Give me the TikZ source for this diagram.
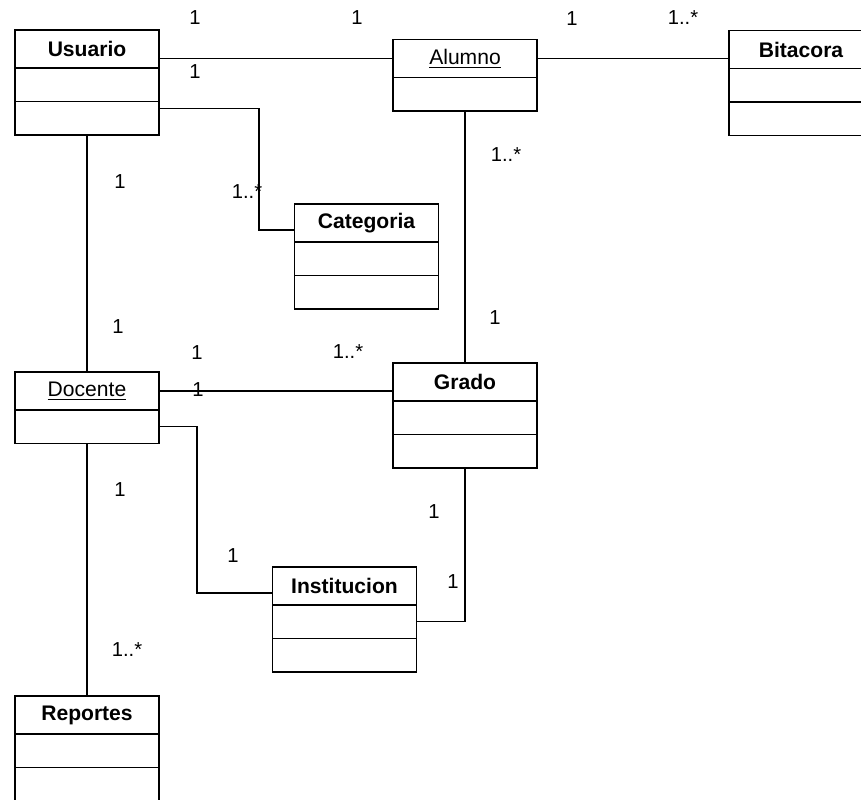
\documentclass[tikz,border=0pt]{standalone}
\usepackage{fontspec}
\setmainfont{Liberation Sans}
\usetikzlibrary{positioning}

\begin{document}
\begin{tikzpicture}[
    x=0.02cm, y=-0.02cm,
    cls/.style={rectangle, draw, line width=1.1pt, outer sep=0pt,
        minimum width=2.88cm, minimum height=0.76cm, align=center,
        font=\fontsize{12}{14}\selectfont\bfseries},
    obj/.style={cls, font=\fontsize{12}{14}\selectfont},
    comp/.style={rectangle, draw, line width=1.1pt, outer sep=0pt,
        minimum width=2.88cm, minimum height=0.67cm},
    mult/.style={inner sep=0pt, font=\fontsize{11.5}{13}\selectfont},
    assoc/.style={draw, line width=0.6pt}
]
    \useasboundingbox (0,0) rectangle (861,799);
    \clip (0,0) rectangle (861,799);

    \node[cls] (usr) at (87,49) {Usuario};
    \node[comp, below=0pt of usr] (usrA) {};
    \node[comp, below=0pt of usrA] (usrB) {};

    \node[obj] (alu) at (465,58.5) {\underline{Alumno}};
    \node[comp, below=0pt of alu] (aluA) {};

    \node[cls] (bit) at (801,49.5) {Bitacora};
    \node[comp, below=0pt of bit] (bitA) {};
    \node[comp, below=0pt of bitA] (bitB) {};

    \node[cls] (cat) at (366.5,223) {Categoria};
    \node[comp, below=0pt of cat] (catA) {};
    \node[comp, below=0pt of catA] (catB) {};

    \node[obj] (doc) at (87,391) {\underline{Docente}};
    \node[comp, below=0pt of doc] (docA) {};

    \node[cls] (gra) at (465,382) {Grado};
    \node[comp, below=0pt of gra] (graA) {};
    \node[comp, below=0pt of graA] (graB) {};

    \node[cls] (ins) at (344.5,586) {Institucion};
    \node[comp, below=0pt of ins] (insA) {};
    \node[comp, below=0pt of insA] (insB) {};

    \node[cls] (rep) at (87,715) {Reportes};
    \node[comp, below=0pt of rep] (repA) {};
    \node[comp, below=0pt of repA] (repB) {};

    \draw[assoc] (alu.west) -- (alu.west -| usr.east);
    \draw[assoc] (alu.east) -- (alu.east -| bit.west);
    \draw[assoc] ([yshift=0.2cm]usrB.east) -- ++(100,0) |- ([yshift=-0.14cm]cat.west);
    \draw[assoc] (usrB.south) -- (doc.north);
    \draw[assoc] (doc.east) -- (doc.east -| gra.west);
    \draw[assoc] (aluA.south) -- (gra.north);
    \draw[assoc] (docA.east) -- ++(38,0) |- ([yshift=-0.14cm]ins.west);
    \draw[assoc] (graB.south) |- (insA.east);
    \draw[assoc] (docA.south) -- (rep.north);

    \node[mult] (m1) at (195,18) {1};
    \node[mult] (m2) at (195,72) {1};
    \node[mult] (m3) at (357,18) {1};
    \node[mult] (m4) at (572,19) {1};
    \node[mult] (m5) at (683,18) {1..*};
    \node[mult] (m6) at (120,182) {1};
    \node[mult] (m7) at (247,192) {1..*};
    \node[mult] (m8) at (506,155) {1..*};
    \node[mult] (m9) at (495,318) {1};
    \node[mult] (m10) at (118,327) {1};
    \node[mult] (m11) at (197,353) {1};
    \node[mult] (m12) at (348,352) {1..*};
    \node[mult] (m13) at (198,390) {1};
    \node[mult] (m14) at (120,490) {1};
    \node[mult] (m15) at (434,512) {1};
    \node[mult] (m16) at (233,556) {1};
    \node[mult] (m17) at (453,582) {1};
    \node[mult] (m18) at (127,650) {1..*};
\end{tikzpicture}
\end{document}
